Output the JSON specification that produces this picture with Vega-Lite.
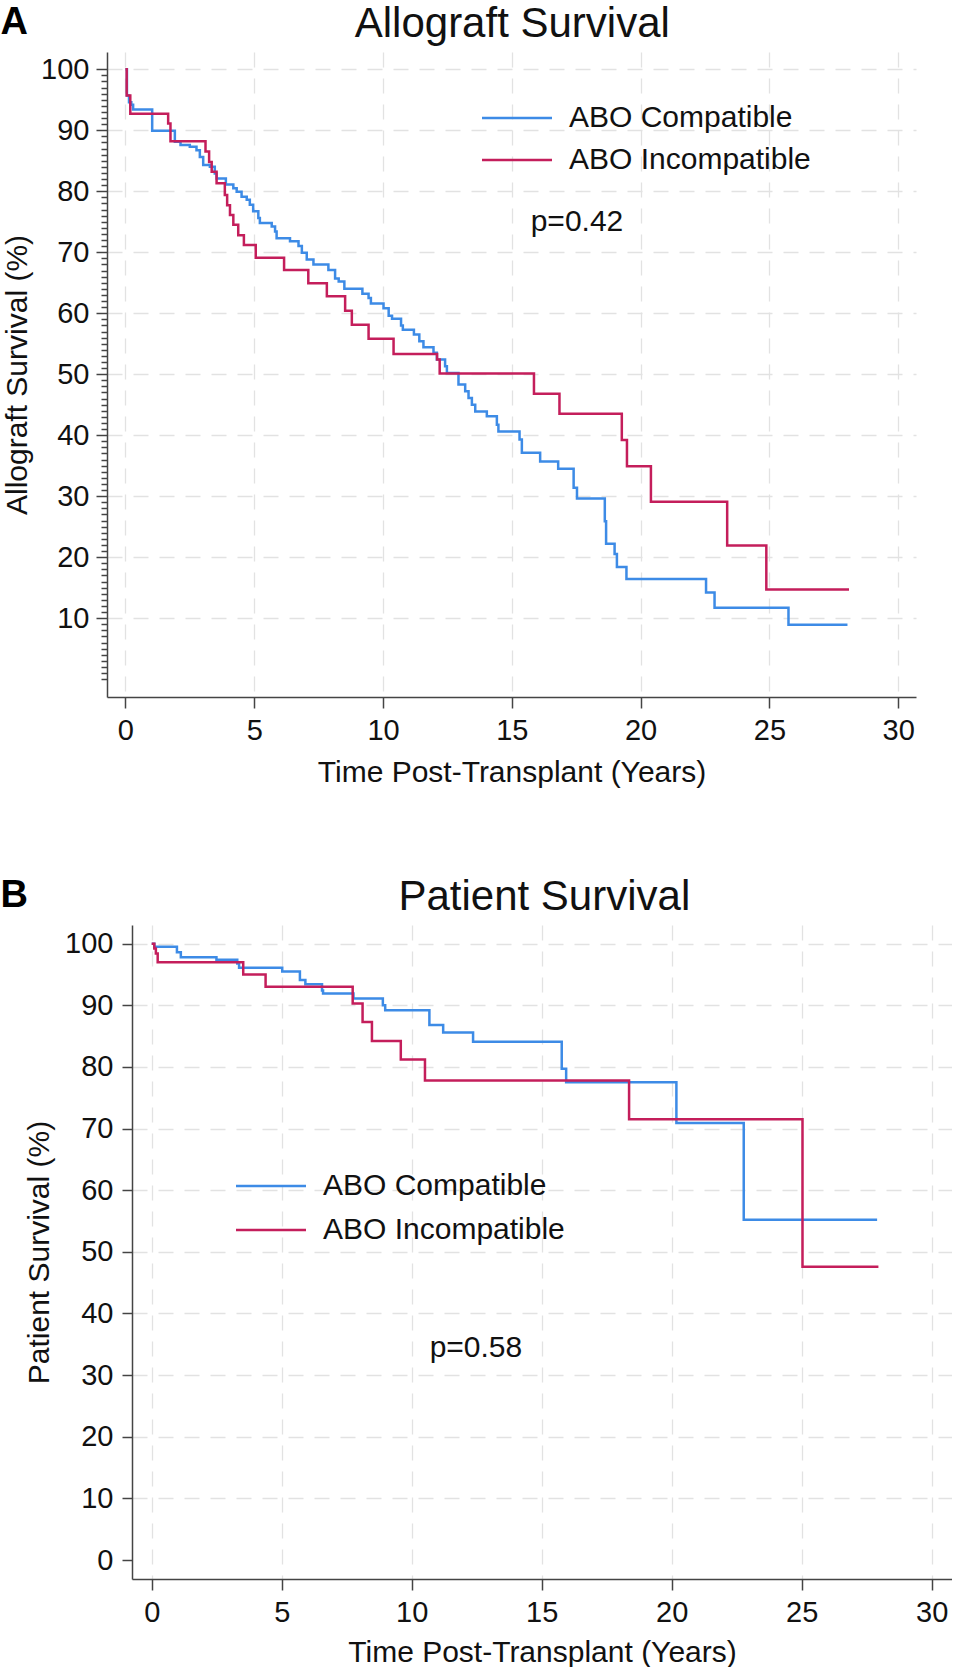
{
  "$schema": "https://vega.github.io/schema/vega-lite/v6.json",
  "background": "white",
  "padding": {"left": 0, "top": 3, "right": 0, "bottom": 0},
  "spacing": 89,
  "config": {
    "font": "Liberation Sans",
    "view": {"stroke": null},
    "title": {"font": "Liberation Sans", "color": "#111", "fontWeight": "normal"},
    "axis": {
      "labelFont": "Liberation Sans",
      "titleFont": "Liberation Sans",
      "labelFontSize": 29,
      "titleFontSize": 30,
      "titleFontWeight": "normal",
      "labelColor": "#111",
      "titleColor": "#111",
      "domainColor": "#444",
      "domainWidth": 1.5,
      "tickColor": "#444",
      "tickWidth": 1.5,
      "grid": true,
      "gridColor": "#e2e2e2",
      "gridWidth": 1.3,
      "gridDash": [15, 11],
      "labelOverlap": false,
      "tickCount": 200,
      "format": "d"
    },
    "legend": {
      "labelFont": "Liberation Sans",
      "labelFontSize": 30,
      "labelColor": "#111",
      "labelLimit": 0,
      "symbolType": "M-5,0L5,0",
      "symbolSize": 196,
      "symbolStrokeWidth": 2.5,
      "symbolFillColor": "transparent",
      "labelOffset": 37,
      "padding": 0
    }
  },
  "datasets": {
    "allograft": [
      {"years": 0, "survival": 100, "group": "ABO Compatible"},
      {"years": 0.06, "survival": 95.7, "group": "ABO Compatible"},
      {"years": 0.14, "survival": 94.6, "group": "ABO Compatible"},
      {"years": 0.23, "survival": 94.2, "group": "ABO Compatible"},
      {"years": 0.3, "survival": 93.4, "group": "ABO Compatible"},
      {"years": 1.04, "survival": 89.9, "group": "ABO Compatible"},
      {"years": 1.92, "survival": 88.1, "group": "ABO Compatible"},
      {"years": 2.14, "survival": 87.6, "group": "ABO Compatible"},
      {"years": 2.5, "survival": 87.3, "group": "ABO Compatible"},
      {"years": 2.76, "survival": 86.7, "group": "ABO Compatible"},
      {"years": 2.89, "survival": 85.6, "group": "ABO Compatible"},
      {"years": 3.02, "survival": 84.3, "group": "ABO Compatible"},
      {"years": 3.28, "survival": 84.0, "group": "ABO Compatible"},
      {"years": 3.47, "survival": 82.9, "group": "ABO Compatible"},
      {"years": 3.54, "survival": 82.1, "group": "ABO Compatible"},
      {"years": 3.9, "survival": 81.1, "group": "ABO Compatible"},
      {"years": 4.19, "survival": 80.5, "group": "ABO Compatible"},
      {"years": 4.32, "survival": 79.9, "group": "ABO Compatible"},
      {"years": 4.51, "survival": 79.1, "group": "ABO Compatible"},
      {"years": 4.71, "survival": 78.6, "group": "ABO Compatible"},
      {"years": 4.83, "survival": 77.8, "group": "ABO Compatible"},
      {"years": 4.96, "survival": 76.7, "group": "ABO Compatible"},
      {"years": 5.16, "survival": 75.6, "group": "ABO Compatible"},
      {"years": 5.22, "survival": 74.8, "group": "ABO Compatible"},
      {"years": 5.68, "survival": 74.2, "group": "ABO Compatible"},
      {"years": 5.81, "survival": 73.4, "group": "ABO Compatible"},
      {"years": 5.87, "survival": 72.3, "group": "ABO Compatible"},
      {"years": 6.39, "survival": 71.8, "group": "ABO Compatible"},
      {"years": 6.72, "survival": 71.0, "group": "ABO Compatible"},
      {"years": 6.85, "survival": 69.9, "group": "ABO Compatible"},
      {"years": 7.04, "survival": 68.8, "group": "ABO Compatible"},
      {"years": 7.3, "survival": 68.0, "group": "ABO Compatible"},
      {"years": 7.88, "survival": 67.1, "group": "ABO Compatible"},
      {"years": 8.14, "survival": 65.7, "group": "ABO Compatible"},
      {"years": 8.28, "survival": 65.2, "group": "ABO Compatible"},
      {"years": 8.5, "survival": 64.0, "group": "ABO Compatible"},
      {"years": 9.2, "survival": 63.2, "group": "ABO Compatible"},
      {"years": 9.44, "survival": 62.5, "group": "ABO Compatible"},
      {"years": 9.53, "survival": 61.6, "group": "ABO Compatible"},
      {"years": 10.02, "survival": 60.8, "group": "ABO Compatible"},
      {"years": 10.22, "survival": 59.6, "group": "ABO Compatible"},
      {"years": 10.35, "survival": 59.1, "group": "ABO Compatible"},
      {"years": 10.7, "survival": 58.0, "group": "ABO Compatible"},
      {"years": 10.77, "survival": 57.3, "group": "ABO Compatible"},
      {"years": 11.2, "survival": 56.5, "group": "ABO Compatible"},
      {"years": 11.41, "survival": 55.4, "group": "ABO Compatible"},
      {"years": 11.57, "survival": 54.4, "group": "ABO Compatible"},
      {"years": 11.96, "survival": 53.5, "group": "ABO Compatible"},
      {"years": 12.09, "survival": 52.4, "group": "ABO Compatible"},
      {"years": 12.41, "survival": 51.3, "group": "ABO Compatible"},
      {"years": 12.48, "survival": 50.2, "group": "ABO Compatible"},
      {"years": 12.93, "survival": 48.3, "group": "ABO Compatible"},
      {"years": 13.19, "survival": 47.2, "group": "ABO Compatible"},
      {"years": 13.32, "survival": 46.1, "group": "ABO Compatible"},
      {"years": 13.45, "survival": 45.0, "group": "ABO Compatible"},
      {"years": 13.58, "survival": 43.9, "group": "ABO Compatible"},
      {"years": 14.03, "survival": 43.1, "group": "ABO Compatible"},
      {"years": 14.42, "survival": 41.7, "group": "ABO Compatible"},
      {"years": 14.48, "survival": 40.6, "group": "ABO Compatible"},
      {"years": 15.3, "survival": 39.3, "group": "ABO Compatible"},
      {"years": 15.39, "survival": 37.1, "group": "ABO Compatible"},
      {"years": 16.1, "survival": 35.7, "group": "ABO Compatible"},
      {"years": 16.8, "survival": 34.5, "group": "ABO Compatible"},
      {"years": 17.4, "survival": 31.4, "group": "ABO Compatible"},
      {"years": 17.53, "survival": 29.6, "group": "ABO Compatible"},
      {"years": 18.61, "survival": 25.9, "group": "ABO Compatible"},
      {"years": 18.66, "survival": 22.2, "group": "ABO Compatible"},
      {"years": 18.99, "survival": 20.5, "group": "ABO Compatible"},
      {"years": 19.08, "survival": 18.4, "group": "ABO Compatible"},
      {"years": 19.45, "survival": 16.4, "group": "ABO Compatible"},
      {"years": 22.54, "survival": 14.2, "group": "ABO Compatible"},
      {"years": 22.87, "survival": 11.7, "group": "ABO Compatible"},
      {"years": 25.74, "survival": 8.9, "group": "ABO Compatible"},
      {"years": 28.03, "survival": 8.9, "group": "ABO Compatible"},
      {"years": 0, "survival": 100, "group": "ABO Incompatible"},
      {"years": 0.05, "survival": 95.7, "group": "ABO Incompatible"},
      {"years": 0.19, "survival": 92.7, "group": "ABO Incompatible"},
      {"years": 1.66, "survival": 91.1, "group": "ABO Incompatible"},
      {"years": 1.75, "survival": 88.2, "group": "ABO Incompatible"},
      {"years": 3.11, "survival": 86.5, "group": "ABO Incompatible"},
      {"years": 3.25, "survival": 84.8, "group": "ABO Incompatible"},
      {"years": 3.35, "survival": 83.2, "group": "ABO Incompatible"},
      {"years": 3.54, "survival": 81.3, "group": "ABO Incompatible"},
      {"years": 3.86, "survival": 79.4, "group": "ABO Incompatible"},
      {"years": 3.95, "survival": 77.7, "group": "ABO Incompatible"},
      {"years": 4.06, "survival": 76.1, "group": "ABO Incompatible"},
      {"years": 4.19, "survival": 74.5, "group": "ABO Incompatible"},
      {"years": 4.38, "survival": 72.8, "group": "ABO Incompatible"},
      {"years": 4.6, "survival": 71.2, "group": "ABO Incompatible"},
      {"years": 5.06, "survival": 69.1, "group": "ABO Incompatible"},
      {"years": 6.16, "survival": 67.1, "group": "ABO Incompatible"},
      {"years": 7.1, "survival": 64.9, "group": "ABO Incompatible"},
      {"years": 7.82, "survival": 62.8, "group": "ABO Incompatible"},
      {"years": 8.53, "survival": 60.4, "group": "ABO Incompatible"},
      {"years": 8.79, "survival": 58.1, "group": "ABO Incompatible"},
      {"years": 9.44, "survival": 55.8, "group": "ABO Incompatible"},
      {"years": 10.41, "survival": 53.3, "group": "ABO Incompatible"},
      {"years": 12.1, "survival": 52.4, "group": "ABO Incompatible"},
      {"years": 12.2, "survival": 50.1, "group": "ABO Incompatible"},
      {"years": 15.86, "survival": 46.8, "group": "ABO Incompatible"},
      {"years": 16.85, "survival": 43.5, "group": "ABO Incompatible"},
      {"years": 19.27, "survival": 39.2, "group": "ABO Incompatible"},
      {"years": 19.47, "survival": 34.9, "group": "ABO Incompatible"},
      {"years": 20.4, "survival": 29.1, "group": "ABO Incompatible"},
      {"years": 23.36, "survival": 21.9, "group": "ABO Incompatible"},
      {"years": 24.88, "survival": 14.7, "group": "ABO Incompatible"},
      {"years": 28.09, "survival": 14.7, "group": "ABO Incompatible"}
    ],
    "patient": [
      {"years": 0, "survival": 100, "group": "ABO Compatible"},
      {"years": 0.1, "survival": 99.5, "group": "ABO Compatible"},
      {"years": 0.97, "survival": 98.6, "group": "ABO Compatible"},
      {"years": 1.12, "survival": 97.8, "group": "ABO Compatible"},
      {"years": 2.49, "survival": 97.4, "group": "ABO Compatible"},
      {"years": 3.29, "survival": 96.8, "group": "ABO Compatible"},
      {"years": 3.36, "survival": 96.1, "group": "ABO Compatible"},
      {"years": 5.02, "survival": 95.5, "group": "ABO Compatible"},
      {"years": 5.7, "survival": 94.1, "group": "ABO Compatible"},
      {"years": 5.91, "survival": 93.4, "group": "ABO Compatible"},
      {"years": 6.55, "survival": 92.4, "group": "ABO Compatible"},
      {"years": 6.59, "survival": 91.9, "group": "ABO Compatible"},
      {"years": 7.76, "survival": 91.1, "group": "ABO Compatible"},
      {"years": 8.89, "survival": 90.0, "group": "ABO Compatible"},
      {"years": 8.98, "survival": 89.2, "group": "ABO Compatible"},
      {"years": 10.68, "survival": 86.8, "group": "ABO Compatible"},
      {"years": 11.21, "survival": 85.6, "group": "ABO Compatible"},
      {"years": 12.36, "survival": 84.1, "group": "ABO Compatible"},
      {"years": 15.77, "survival": 79.7, "group": "ABO Compatible"},
      {"years": 15.94, "survival": 77.5, "group": "ABO Compatible"},
      {"years": 20.18, "survival": 70.9, "group": "ABO Compatible"},
      {"years": 22.77, "survival": 55.2, "group": "ABO Compatible"},
      {"years": 27.9, "survival": 55.2, "group": "ABO Compatible"},
      {"years": 0, "survival": 100, "group": "ABO Incompatible"},
      {"years": 0.1, "survival": 99.2, "group": "ABO Incompatible"},
      {"years": 0.16, "survival": 98.4, "group": "ABO Incompatible"},
      {"years": 0.23, "survival": 97.0, "group": "ABO Incompatible"},
      {"years": 3.52, "survival": 95.0, "group": "ABO Incompatible"},
      {"years": 4.38, "survival": 93.0, "group": "ABO Incompatible"},
      {"years": 7.73, "survival": 90.3, "group": "ABO Incompatible"},
      {"years": 8.11, "survival": 87.3, "group": "ABO Incompatible"},
      {"years": 8.47, "survival": 84.2, "group": "ABO Incompatible"},
      {"years": 9.58, "survival": 81.2, "group": "ABO Incompatible"},
      {"years": 10.51, "survival": 77.8, "group": "ABO Incompatible"},
      {"years": 18.36, "survival": 71.5, "group": "ABO Incompatible"},
      {"years": 25.03, "survival": 47.6, "group": "ABO Incompatible"},
      {"years": 27.95, "survival": 47.6, "group": "ABO Incompatible"}
    ]
  },
  "resolve": {"scale": {"color": "independent", "x": "independent", "y": "independent"}, "legend": {"color": "independent"}},
  "vconcat": [
    {
      "title": {"text": "Allograft Survival", "anchor": "middle", "frame": "bounds", "fontSize": 42, "dx": 54, "dy": 46},
      "resolve": {"scale": {"color": "independent"}, "legend": {"color": "independent"}},
      "vconcat": [
        {
          "title": {"text": "A", "anchor": "start", "frame": "bounds", "fontSize": 38, "fontWeight": "bold", "color": "#000", "dx": -2, "offset": 10},
          "width": 809,
          "height": 645,
          "layer": [
            {
              "data": {"name": "allograft"},
              "mark": {"type": "line", "interpolate": "step-after", "strokeWidth": 2.5},
              "encoding": {
                "x": {
                  "field": "years",
                  "type": "quantitative",
                  "scale": {"domain": [-0.714, 30.69], "nice": false, "zero": false},
                  "axis": {
                    "title": "Time Post-Transplant (Years)",
                    "values": [0, 5, 10, 15, 20, 25, 30],
                    "format": "d",
                    "tickSize": 11,
                    "labelPadding": 8,
                    "titlePadding": 12,
                    "labelOverlap": false
                  }
                },
                "y": {
                  "field": "survival",
                  "type": "quantitative",
                  "scale": {"domain": [-2.93, 102.83], "nice": false, "zero": false},
                  "axis": {
                    "title": "Allograft Survival (%)",
                    "values": [0, 1, 2, 3, 4, 5, 6, 7, 8, 9, 10, 11, 12, 13, 14, 15, 16, 17, 18, 19, 20, 21, 22, 23, 24, 25, 26, 27, 28, 29, 30, 31, 32, 33, 34, 35, 36, 37, 38, 39, 40, 41, 42, 43, 44, 45, 46, 47, 48, 49, 50, 51, 52, 53, 54, 55, 56, 57, 58, 59, 60, 61, 62, 63, 64, 65, 66, 67, 68, 69, 70, 71, 72, 73, 74, 75, 76, 77, 78, 79, 80, 81, 82, 83, 84, 85, 86, 87, 88, 89, 90, 91, 92, 93, 94, 95, 96, 97, 98, 99, 100],
                    "tickCount": 200,
                    "format": "d",
                    "labelExpr": "datum.value % 10 === 0 && datum.value > 0 ? datum.label : ''",
                    "labelOverlap": false,
                    "tickSize": {"condition": {"test": "datum.value % 10 === 0 && datum.value > 0", "value": 11}, "value": 6},
                    "gridOpacity": {"condition": {"test": "datum.value % 10 === 0 && datum.value > 0", "value": 1}, "value": 0},
                    "labelPadding": 7,
                    "titlePadding": 8
                  }
                },
                "color": {
                  "field": "group",
                  "type": "nominal",
                  "scale": {"domain": ["ABO Compatible", "ABO Incompatible"], "range": ["#3d8be6", "#c41e5b"]},
                  "legend": {"title": null, "orient": "none", "legendX": 395, "legendY": 51, "rowPadding": 12}
                }
              }
            },
            {
              "data": {"values": [{"label": "p=0.42"}]},
              "mark": {"type": "text", "fontSize": 30, "color": "#111", "baseline": "alphabetic", "align": "center"},
              "encoding": {
                "x": {"datum": 17.53},
                "y": {"datum": 73.5},
                "text": {"field": "label"}
              }
            }
          ]
        }
      ]
    },
    {
      "title": {"text": "Patient Survival", "anchor": "middle", "frame": "bounds", "fontSize": 42, "dx": 68, "dy": 46},
      "resolve": {"scale": {"color": "independent"}, "legend": {"color": "independent"}},
      "spacing": -108,
      "hconcat": [
        {
          "width": 1,
          "height": 1,
          "data": {"values": []},
          "mark": {"type": "point", "opacity": 0}
        },
        {
          "title": {"text": "B", "anchor": "start", "frame": "bounds", "fontSize": 38, "fontWeight": "bold", "color": "#000", "dx": -24, "offset": 10},
          "width": 820,
          "height": 654,
          "layer": [
            {
              "data": {"name": "patient"},
              "mark": {"type": "line", "interpolate": "step-after", "strokeWidth": 2.5},
              "encoding": {
                "x": {
                  "field": "years",
                  "type": "quantitative",
                  "scale": {"domain": [-0.758, 30.78], "nice": false, "zero": false},
                  "axis": {
                    "title": "Time Post-Transplant (Years)",
                    "values": [0, 5, 10, 15, 20, 25, 30],
                    "format": "d",
                    "tickSize": 11,
                    "labelPadding": 8,
                    "titlePadding": 10,
                    "labelOverlap": false
                  }
                },
                "y": {
                  "field": "survival",
                  "type": "quantitative",
                  "scale": {"domain": [-3.08, 103.03], "nice": false, "zero": false},
                  "axis": {
                    "title": "Patient Survival (%)",
                    "values": [0, 10, 20, 30, 40, 50, 60, 70, 80, 90, 100],
                    "format": "d",
                    "labelOverlap": false,
                    "tickSize": 10,
                    "gridOpacity": {"condition": {"test": "datum.value > 0", "value": 1}, "value": 0},
                    "labelPadding": 9,
                    "titlePadding": 10
                  }
                },
                "color": {
                  "field": "group",
                  "type": "nominal",
                  "scale": {"domain": ["ABO Compatible", "ABO Incompatible"], "range": ["#3d8be6", "#c41e5b"]},
                  "legend": {"title": null, "orient": "none", "legendX": 124, "legendY": 246, "rowPadding": 14}
                }
              }
            },
            {
              "data": {"values": [{"label": "p=0.58"}]},
              "mark": {"type": "text", "fontSize": 30, "color": "#111", "baseline": "alphabetic", "align": "center"},
              "encoding": {
                "x": {"datum": 12.47},
                "y": {"datum": 33.0},
                "text": {"field": "label"}
              }
            }
          ]
        }
      ]
    }
  ]
}
